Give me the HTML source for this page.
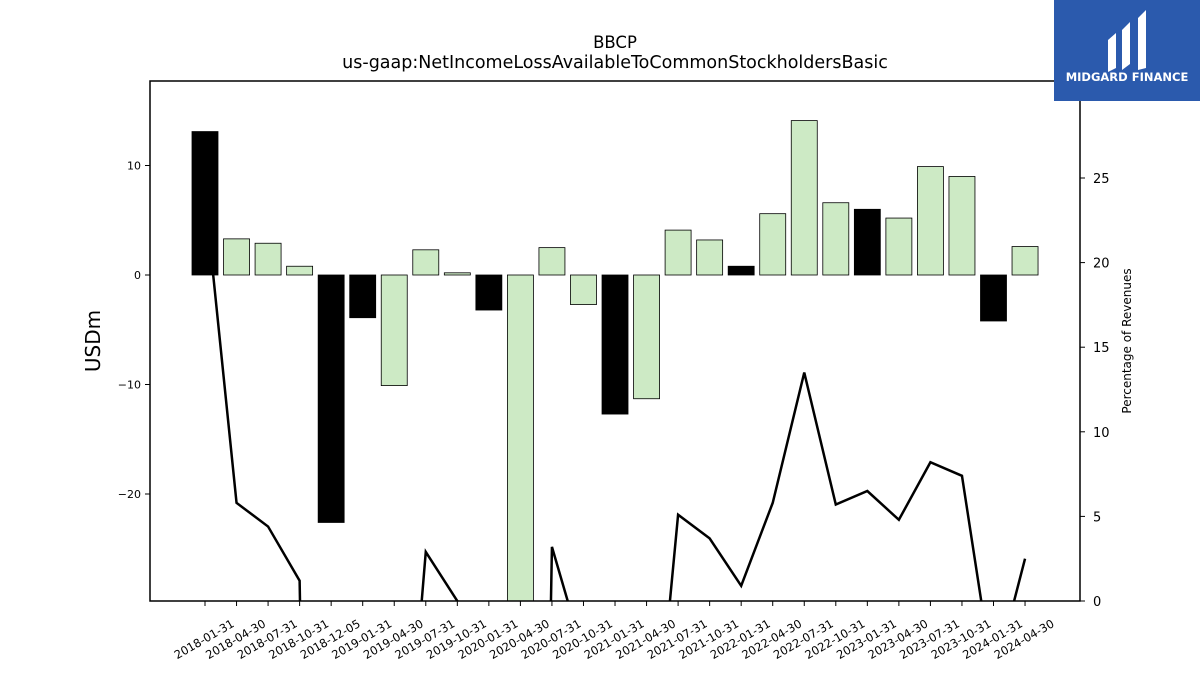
<!DOCTYPE html>
<html><head><meta charset="utf-8"><style>
html,body{margin:0;width:1200px;height:675px;overflow:hidden;background:#fff;font-family:"Liberation Sans","DejaVu Sans",sans-serif}
svg{display:block}
</style></head><body>
<svg id="chart" width="1200" height="675" xmlns="http://www.w3.org/2000/svg" font-family="DejaVu Sans, Liberation Sans, sans-serif">
<defs><clipPath id="pc"><rect x="150" y="81" width="930" height="520"/></clipPath></defs>
<rect width="1200" height="675" fill="#fff"/>
<text x="615" y="48" font-size="16.5" text-anchor="middle">BBCP</text>
<text x="615" y="68" font-size="17.5" text-anchor="middle">us-gaap:NetIncomeLossAvailableToCommonStockholdersBasic</text>
<g id="bars" clip-path="url(#pc)"></g>
<g id="line" clip-path="url(#pc)"></g>
<rect x="150" y="81" width="930" height="520" fill="none" stroke="#000" stroke-width="1.5"/>
<g id="axes"></g>
<text transform="translate(100,341) rotate(-90)" font-size="20" text-anchor="middle">USDm</text>
<text transform="translate(1131,341) rotate(-90)" font-size="12" text-anchor="middle">Percentage of Revenues</text>
<g>
<rect x="1054" y="0" width="146" height="101" fill="#2b5aad"/>
<path d="M1108 40 L1116 33 L1116 68 L1108 72 Z M1122 30 L1130 22 L1130 64 L1122 70 Z M1138 18 L1146 10 L1146 68 L1138 70 Z" fill="#fff"/>
<text x="1127" y="81" font-size="11.5" font-weight="bold" fill="#fff" text-anchor="middle">MIDGARD FINANCE</text>
</g>
</svg>
<script>
const categories=["2018-01-31","2018-04-30","2018-07-31","2018-10-31","2018-12-05","2019-01-31","2019-04-30","2019-07-31","2019-10-31","2020-01-31","2020-04-30","2020-07-31","2020-10-31","2021-01-31","2021-04-30","2021-07-31","2021-10-31","2022-01-31","2022-04-30","2022-07-31","2022-10-31","2023-01-31","2023-04-30","2023-07-31","2023-10-31","2024-01-31","2024-04-30"];
const netIncome=[13.1,3.3,2.9,0.8,-22.6,-3.9,-10.1,2.3,0.2,-3.2,-40,2.5,-2.7,-12.7,-11.3,4.1,3.2,0.8,5.6,14.1,6.6,6.0,5.2,9.9,9.0,-4.2,2.6];
const isBlack=[1,0,0,0,1,1,0,0,0,1,0,0,0,1,0,0,0,1,0,0,0,1,0,0,0,1,0];
const pctRevenue=[24,5.8,4.4,1.2,-100,-30,-19.6,2.9,0,-30,-100,3.2,-3.2,-20,-14.6,5.1,3.7,0.9,5.8,13.5,5.7,6.5,4.8,8.2,7.4,-4.7,2.5];
const leftTicks=[-20,-10,0,10];
const rightTicks=[0,5,10,15,20,25];
const NS="http://www.w3.org/2000/svg";
const xC=i=>205+i*31.54;
const yL=v=>275-v*10.95;
const yR=v=>601-v*16.92;
function mk(t,a,p){const e=document.createElementNS(NS,t);for(const k in a)e.setAttribute(k,a[k]);p.appendChild(e);return e;}
const bars=document.getElementById('bars'),axes=document.getElementById('axes'),line=document.getElementById('line');
netIncome.forEach((v,i)=>{
 const y0=yL(0),y1=yL(v);
 const r=mk('rect',{x:xC(i)-13,y:Math.min(y0,y1),width:26,height:Math.abs(y1-y0),fill:isBlack[i]?'#000':'#cdeac5',stroke:'#000','stroke-width':0.8},bars);
 
 
});
const pl=mk('polyline',{points:pctRevenue.map((v,i)=>xC(i)+','+yR(v)).join(' '),fill:'none',stroke:'#000','stroke-width':2.5},line);


leftTicks.forEach(v=>{
 mk('line',{x1:145,x2:150,y1:yL(v),y2:yL(v),stroke:'#000'},axes);
 const t=mk('text',{x:141,y:yL(v)+4,'font-size':11,'text-anchor':'end'},axes);t.textContent=v<0?'\u2212'+(-v):v;
 
 
});
rightTicks.forEach(v=>{
 mk('line',{x1:1080,x2:1085,y1:yR(v),y2:yR(v),stroke:'#000'},axes);
 const t=mk('text',{x:1093,y:yR(v)+5,'font-size':13},axes);t.textContent=v;
 
 
});
categories.forEach((c,i)=>{
 mk('line',{x1:xC(i),x2:xC(i),y1:601,y2:606,stroke:'#000'},axes);
 const t=mk('text',{transform:`translate(${xC(i)+30},626) rotate(-30)`,'font-size':11.5,'text-anchor':'end'},axes);t.textContent=c;
 
 
});
</script>
</body></html>
